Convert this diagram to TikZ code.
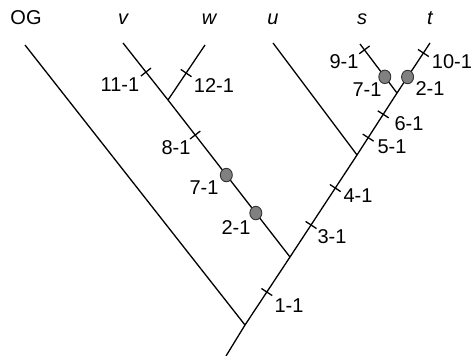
\documentclass[tikz,border=0pt]{standalone}
\usepackage{fontspec}
\setmainfont{Liberation Sans}
\usetikzlibrary{calc,shapes.geometric}
\definecolor{dotgray}{RGB}{128,128,128}
% short cross bar on a branch: #1 = point on branch, #2 = point the branch runs to
\newcommand{\tickat}[2]{\draw[branch] ($(#1)!6.5pt!90:(#2)$) -- ($(#1)!6.5pt!-90:(#2)$);}

\begin{document}
\begin{tikzpicture}[
    x=1pt, y=-1pt,
    branch/.style={line width=1.3pt},
    taxon/.style={anchor=base,inner sep=0pt,font=\fontsize{20}{23}\selectfont\itshape},
    chg/.style={inner sep=0pt,font=\fontsize{20}{23}\selectfont},
    dot/.style={ellipse,draw=black!80,fill=dotgray,minimum width=12pt,minimum height=13.5pt,inner sep=0pt,line width=0.9pt}
]
\useasboundingbox (0,0) rectangle (474,356);

% tips and forks
\coordinate (base) at (226,356);
\coordinate (root) at (245,325);
\coordinate (og) at (25,45);
\coordinate (jvwc) at (290,257);
\coordinate (jvw) at (168,100);
\coordinate (ju) at (357,155);
\coordinate (jst) at (397,93);
\coordinate (v) at (123,43);
\coordinate (w) at (205,45);
\coordinate (u) at (273,43);
\coordinate (s) at (360,44);
\coordinate (t) at (430,43);

\draw[branch] (base) -- (root) -- (jvwc) -- (ju) -- (jst) -- (t);
\draw[branch] (root) -- (og);
\draw[branch] (jvwc) -- (jvw) -- (v);
\draw[branch] (jvw) -- (w);
\draw[branch] (ju) -- (u);
\draw[branch] (jst) -- (s);

% taxon names
\node[taxon,font=\fontsize{20}{23}\selectfont] (nog) at (26,24.5) {OG};
\node[taxon] (nv) at (123,24.5) {v};
\node[taxon] (nw) at (209,24.5) {w};
\node[taxon] (nu) at (273,24.5) {u};
\node[taxon] (ns) at (362,24.5) {s};
\node[taxon] (nt) at (430,24.5) {t};

% character changes
\coordinate (k11) at ($(jvw)!0.49!(v)$);
\coordinate (k12) at ($(jvw)!0.49!(w)$);
\coordinate (k8) at ($(jvwc)!0.777!(jvw)$);
\coordinate (k1) at ($(root)!0.485!(jvwc)$);
\coordinate (k3) at ($(jvwc)!0.314!(ju)$);
\coordinate (k4) at ($(jvwc)!0.676!(ju)$);
\coordinate (k5) at ($(ju)!0.28!(jst)$);
\coordinate (k6) at ($(ju)!0.656!(jst)$);
\coordinate (k9) at ($(jst)!0.88!(s)$);
\coordinate (k10) at ($(jst)!0.8!(t)$);
\tickat{k11}{v}
\tickat{k12}{w}
\tickat{k8}{jvw}
\tickat{k1}{jvwc}
\tickat{k3}{ju}
\tickat{k4}{ju}
\tickat{k5}{jst}
\tickat{k6}{jst}
\tickat{k9}{s}
\tickat{k10}{t}

% homoplasies
\node[dot] (dvw7) at ($(jvwc)!0.522!(jvw)$) {};
\node[dot] (dvw2) at ($(jvwc)!0.28!(jvw)$) {};
\node[dot] (ds7) at ($(jst)!0.33!(s)$) {};
\node[dot] (dt2) at ($(jst)!0.32!(t)$) {};

\node[chg] (l11) at (120,85) {11-1};
\node[chg] (l12) at (214,86) {12-1};
\node[chg] (l8) at (176,148) {8-1};
\node[chg] (lvw7) at (204,188) {7-1};
\node[chg] (lvw2) at (236,228) {2-1};
\node[chg] (l1) at (289,306) {1-1};
\node[chg] (l3) at (332,237) {3-1};
\node[chg] (l4) at (358,196) {4-1};
\node[chg] (l5) at (392,147) {5-1};
\node[chg] (l6) at (409,124) {6-1};
\node[chg] (l9) at (344,62) {9-1};
\node[chg] (ls7) at (367,90) {7-1};
\node[chg] (lt2) at (430,89) {2-1};
\node[chg] (l10) at (452,62) {10-1};
\end{tikzpicture}
\end{document}
